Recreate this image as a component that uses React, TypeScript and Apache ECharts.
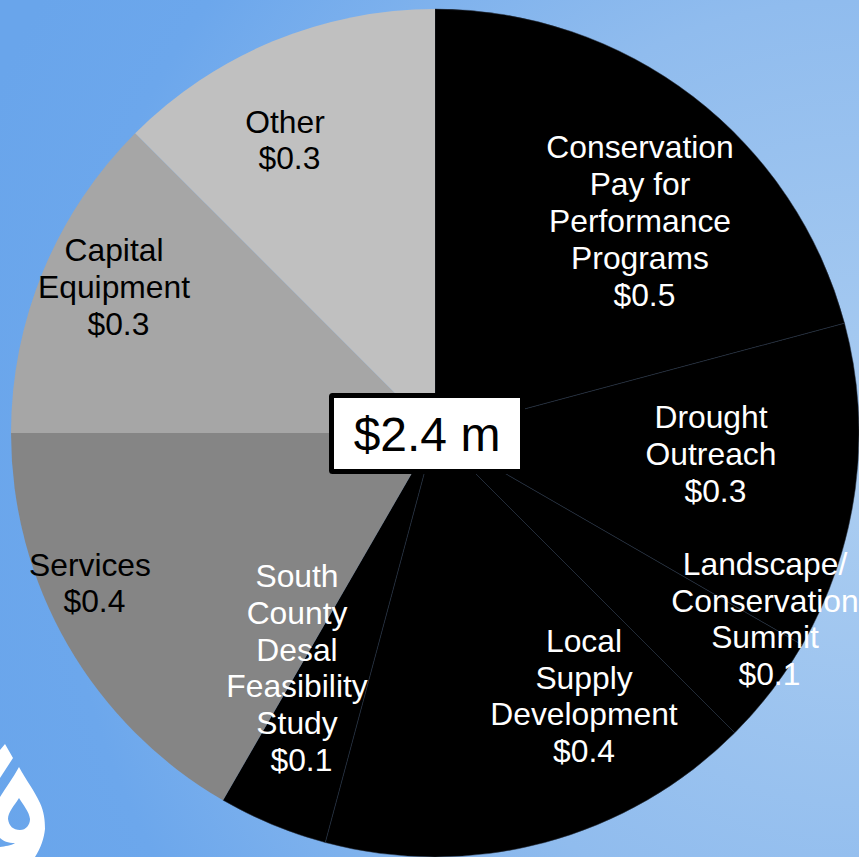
import React, { useEffect, useRef } from "react";
import * as echarts from "echarts";

// Budget slices in $ millions, clockwise from twelve o'clock.
const categories = [
  "Conservation\nPay for\nPerformance\nPrograms",
  "Drought\nOutreach",
  "Landscape/\nConservation\nSummit",
  "Local\nSupply\nDevelopment",
  "South\nCounty\nDesal\nFeasibility\nStudy",
  "Services",
  "Capital\nEquipment",
  "Other",
];
const values = [0.5, 0.3, 0.1, 0.4, 0.1, 0.4, 0.3, 0.3];
const totalLabel = "$2.4 m";

const sliceColors = ["#000000", "#000000", "#000000", "#000000", "#000000", "#858585", "#a6a6a6", "#c0c0c0"];
const labelColors = ["#ffffff", "#ffffff", "#ffffff", "#ffffff", "#ffffff", "#000000", "#000000", "#000000"];
// Centre of each label block on the page.
const labelCentres = [
  [640, 221], [711, 454], [765, 619], [584, 696],
  [297, 668], [90, 583], [114, 287], [285, 140],
];
// The value line sits a little right of the name, except for Local Supply.
const valuePrefix = [" ", " ", " ", "", " ", " ", " ", " "];

const DROP_MARK =
  "M0 778 L13 758 L5 744 L0 750 Z " +
  "M19 767 C26 780 34 790 40 803 C44 812 45 820 45 829 C44 838 41 848 35 857 L0 857 L0 847 C5 846 11 846 15 843 C8 843 3 841 0 838 L0 797 C6 787 13 778 19 767 Z " +
  "M19 798 C14 806 8 812 8 819 C9 826 13 830 20 830 C26 830 30 825 30 819 C29 811 23 805 19 798 Z";
echarts.graphic.registerShape("dropMark", echarts.graphic.extendPath(DROP_MARK as any, {}));

export default function App() {
  const ref = useRef<HTMLDivElement>(null);
  useEffect(() => {
    document.body.style.margin = "0";
    const chart = echarts.init(ref.current!, null, { renderer: "svg" });
    chart.setOption({
      animation: false,
      backgroundColor: {
        type: "radial", x: 1, y: 0.55, r: 1.1,
        colorStops: [
          { offset: 0, color: "#abcdf1" },
          { offset: 0.5, color: "#90bcee" },
          { offset: 0.85, color: "#6ca7ec" },
          { offset: 1, color: "#69a5eb" },
        ],
      },
      graphic: [
        { type: "dropMark", z: 1, style: { fill: "#ffffff", fillRule: "evenodd" } },
        {
          type: "rect", z: 100,
          shape: { x: 331.5, y: 395.5, width: 191, height: 76, r: 1 },
          style: { fill: "#ffffff", stroke: "#000000", lineWidth: 5 },
        },
        {
          type: "text", z: 101, x: 427, y: 434,
          style: {
            text: totalLabel, fill: "#000000", fontSize: 48,
            fontFamily: "Liberation Sans", align: "center", verticalAlign: "middle",
          },
        },
      ],
      series: [
        {
          type: "pie",
          center: [435, 433],
          radius: [0, 424],
          startAngle: 90,
          clockwise: true,
          sort: null,
          silent: true,
          minAngle: 0,
          avoidLabelOverlap: false,
          data: categories.map((name, i) => ({
            name,
            value: values[i],
            itemStyle: {
              color: sliceColors[i],
              borderColor: i < 5 ? "#2a3444" : sliceColors[i],
              borderWidth: i < 5 ? 0.5 : 0,
            },
            label: {
              color: labelColors[i],
              formatter: `${name}\n${valuePrefix[i]}$${values[i].toFixed(1)}`,
            },
          })),
          label: {
            show: true,
            position: "inside",
            fontFamily: "Liberation Sans",
            fontSize: 31.8,
            lineHeight: 36.8,
            align: "center",
            verticalAlign: "middle",
          },
          labelLine: { show: false },
          labelLayout: (p: any) => ({
            x: labelCentres[p.dataIndex][0],
            y: labelCentres[p.dataIndex][1],
            align: "center",
            verticalAlign: "middle",
          }),
        },
      ],
    });
    return () => chart.dispose();
  }, []);
  return <div ref={ref} style={{ position: "absolute", left: 0, top: 0, width: 859, height: 857 }} />;
}
